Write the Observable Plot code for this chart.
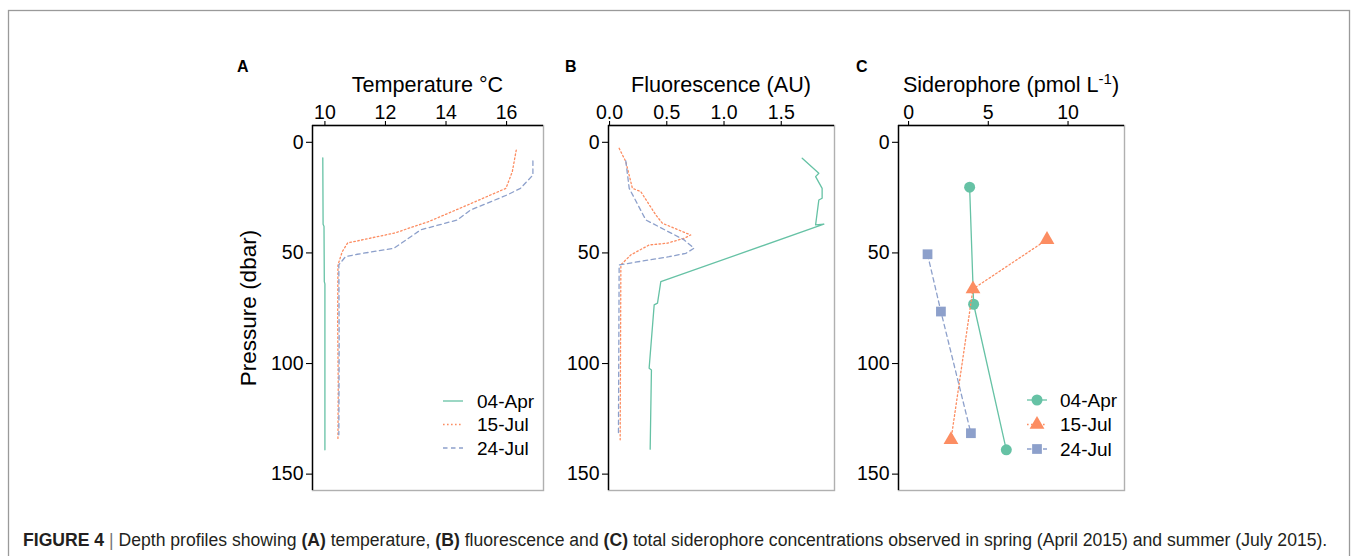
<!DOCTYPE html>
<html>
<head>
<meta charset="utf-8">
<script src="https://cdn.jsdelivr.net/npm/d3@7"></script>
<script src="https://cdn.jsdelivr.net/npm/@observablehq/plot@0.6"></script>
<style>
  html, body { margin: 0; padding: 0; background: #fff; }
  #page { position: relative; width: 1354px; height: 556px; overflow: hidden; background: #fff; font-family: "Liberation Sans", Arial, sans-serif; }
  .panel { position: absolute; top: 55px; }
  #overlay { position: absolute; left: 0; top: 0; pointer-events: none; }
</style>
</head>
<body>
<div id="page"></div>
<script>
// ---------------- data ----------------
const dates = ["04-Apr", "15-Jul", "24-Jul"];
const seriesColors = ["#66c2a5", "#fc8d62", "#8da0cb"];
const seriesDash = ["none", "1.6,2.4", "4.5,3.5"];
const seriesSymbols = ["circle", "triangle", "square"];

const pressureTicks = [0, 50, 100, 150];
const tempTicks = [10, 12, 14, 16];
const fluorTicks = [0, 0.5, 1.0, 1.5];
const sidTicks = [0, 5, 10];

// Temperature (°C) profiles: depth (dbar) and value
const tempAprDepth = [7, 37, 38, 63, 64, 139];
const tempAprValue = [9.93, 9.94, 9.97, 9.98, 10.0, 10.0];
const tempJul15Depth = [3.5, 13.3, 20.8, 29, 36, 41, 45.5, 49.5, 55.5, 80, 110, 134.5];
const tempJul15Value = [16.32, 16.19, 15.98, 14.6, 13.4, 12.3, 10.75, 10.57, 10.43, 10.42, 10.44, 10.43];
const tempJul24Depth = [8.4, 14.8, 20.8, 23.8, 30.6, 35.1, 39.6, 47.9, 50.6, 51.7, 55.4, 90, 132.2];
const tempJul24Value = [16.87, 16.87, 16.46, 16.02, 14.81, 14.37, 13.16, 12.28, 11.07, 10.68, 10.46, 10.47, 10.46];

// Fluorescence (AU) profiles
const fluorAprDepth = [7.2, 14.0, 15.5, 20.8, 25.3, 26.1, 37.3, 37.0, 63.0, 72.7, 73.5, 102.1, 102.9, 138.7];
const fluorAprValue = [1.683, 1.828, 1.80, 1.857, 1.857, 1.828, 1.80, 1.872, 0.448, 0.419, 0.39, 0.346, 0.366, 0.355];
const fluorJul15Depth = [2.7, 8.7, 20.8, 22.3, 32.8, 36.6, 41.9, 43.4, 45.6, 46.4, 50.9, 55.4, 134.5];
const fluorJul15Value = [0.084, 0.142, 0.20, 0.273, 0.404, 0.462, 0.709, 0.651, 0.506, 0.346, 0.186, 0.099, 0.093];
const fluorJul24Depth = [8.4, 20.8, 35.1, 44.1, 47.9, 50.2, 51.7, 55.4, 132.2];
const fluorJul24Value = [0.142, 0.172, 0.317, 0.651, 0.738, 0.666, 0.52, 0.084, 0.078];

// Siderophore (pmol L-1)
const sidAprDepth = [20.3, 73.2, 139.0];
const sidAprValue = [3.83, 4.08, 6.13];
const sidJul15Depth = [44.0, 66.3, 134.5];
const sidJul15Value = [8.68, 4.04, 2.66];
const sidJul24Depth = [50.6, 76.5, 131.5];
const sidJul24Value = [1.19, 2.03, 3.91];

// ---------------- helpers ----------------
function rows(depths, values, date) {
  return depths.map((d, i) => ({depth: d, value: values[i], date}));
}
const yDomain = [-7.6, 157.4];
const FONT = '"Liberation Sans", Arial, Helvetica, sans-serif';
const TICK_FS = 19.5;
const page = document.getElementById("page");

function panel({left, marginLeft, width, xDomain, xTicks, xFormat, data, points}) {
  const marks = [
    Plot.frame({stroke: "#b0b0b0", strokeWidth: 1.4}),
    Plot.ruleX([xDomain[0]], {stroke: "black", strokeWidth: 1.4}),
    Plot.ruleY([yDomain[0]], {stroke: "black", strokeWidth: 1.4}),
    Plot.axisX({anchor: "top", ticks: xTicks, tickFormat: xFormat, tickSize: 5, tickPadding: 2, label: null,
      strokeWidth: 1.1, fontSize: TICK_FS, fontFamily: FONT, fill: "black"}),
    Plot.axisY({anchor: "left", ticks: pressureTicks, tickSize: 6, tickPadding: 3, label: null,
      strokeWidth: 1.1, fontSize: TICK_FS, fontFamily: FONT, fill: "black"})
  ];
  data.forEach((d, i) => {
    marks.push(Plot.line(d, {x: "value", y: "depth", stroke: seriesColors[i], strokeWidth: 1.3,
      strokeDasharray: seriesDash[i] === "none" ? undefined : seriesDash[i]}));
    if (points) {
      marks.push(Plot.dot(d, {x: "value", y: "depth", fill: seriesColors[i], stroke: "none",
        symbol: () => seriesSymbols[i], r: 5.5}));
    }
  });
  const svg = Plot.plot({
    width, height: 440, marginLeft, marginRight: 10, marginTop: 70, marginBottom: 5,
    x: {domain: xDomain},
    y: {domain: yDomain, reverse: true},
    symbol: {type: "identity"},
    style: {fontFamily: FONT, fontSize: TICK_FS + "px", color: "black", background: "transparent", overflow: "visible"},
    marks
  });
  d3.select(svg).selectAll("g[aria-label$='tick label']")
    .attr("font-size", TICK_FS).style("font-size", TICK_FS + "px");
  const wrap = document.createElement("div");
  wrap.className = "panel";
  wrap.style.left = left + "px";
  wrap.appendChild(svg);
  page.appendChild(wrap);
}

panel({
  left: 230, marginLeft: 82, width: 323,
  xDomain: [9.59, 17.22], xTicks: tempTicks, xFormat: d3.format("d"),
  data: [rows(tempAprDepth, tempAprValue, dates[0]), rows(tempJul15Depth, tempJul15Value, dates[1]), rows(tempJul24Depth, tempJul24Value, dates[2])],
  points: false
});
panel({
  left: 540, marginLeft: 68, width: 304,
  xDomain: [-0.009, 1.965], xTicks: fluorTicks, xFormat: d3.format(".1f"),
  data: [rows(fluorAprDepth, fluorAprValue, dates[0]), rows(fluorJul15Depth, fluorJul15Value, dates[1]), rows(fluorJul24Depth, fluorJul24Value, dates[2])],
  points: false
});
panel({
  left: 840, marginLeft: 58, width: 294,
  xDomain: [-0.63, 13.54], xTicks: sidTicks, xFormat: d3.format("d"),
  data: [rows(sidAprDepth, sidAprValue, dates[0]), rows(sidJul15Depth, sidJul15Value, dates[1]), rows(sidJul24Depth, sidJul24Value, dates[2])],
  points: true
});

// ---------------- overlay: frame, titles, legends, caption ----------------
const ov = d3.select(page).append("svg").attr("id", "overlay")
  .attr("width", 1354).attr("height", 556)
  .style("font-family", FONT);

ov.append("rect").attr("x", 8.5).attr("y", 10.5).attr("width", 1341).attr("height", 600)
  .attr("fill", "none").attr("stroke", "#9a9a9a").attr("stroke-width", 1.3);

// panel letters
[["A", 237], ["B", 565], ["C", 856]].forEach(([t, x]) => {
  ov.append("text").attr("x", x).attr("y", 72).attr("font-size", 16).attr("font-weight", "bold").text(t);
});

// axis titles
const TITLE_FS = 21.6;
ov.append("text").attr("x", 427.5).attr("y", 92).attr("text-anchor", "middle").attr("font-size", TITLE_FS).text("Temperature °C");
ov.append("text").attr("x", 721).attr("y", 92).attr("text-anchor", "middle").attr("font-size", TITLE_FS).text("Fluorescence (AU)");
const sid = ov.append("text").attr("x", 1011).attr("y", 92).attr("text-anchor", "middle").attr("font-size", TITLE_FS);
sid.append("tspan").text("Siderophore (pmol L");
sid.append("tspan").attr("font-size", 15).attr("dy", -8).text("-1");
sid.append("tspan").attr("dy", 8).text(")");
ov.append("text").attr("transform", "translate(256,308) rotate(-90)").attr("text-anchor", "middle")
  .attr("font-size", 22.5).text("Pressure (dbar)");

// legend A (lines only)
const LEG_FS = 19;
const legRowsA = [401, 424.5, 448];
dates.forEach((d, i) => {
  ov.append("line").attr("x1", 443).attr("x2", 463).attr("y1", legRowsA[i]).attr("y2", legRowsA[i])
    .attr("stroke", seriesColors[i]).attr("stroke-width", 1.3)
    .attr("stroke-dasharray", seriesDash[i]);
  ov.append("text").attr("x", 477).attr("y", legRowsA[i]).attr("dy", "0.36em").attr("font-size", LEG_FS).text(d);
});
// legend C (lines with symbols)
const legRowsC = [400, 424.5, 449];
dates.forEach((d, i) => {
  ov.append("line").attr("x1", 1027).attr("x2", 1047).attr("y1", legRowsC[i]).attr("y2", legRowsC[i])
    .attr("stroke", seriesColors[i]).attr("stroke-width", 1.3)
    .attr("stroke-dasharray", seriesDash[i]);
  ov.append("path").attr("transform", `translate(1037,${legRowsC[i]})`)
    .attr("d", d3.symbol(seriesSymbols[i] === "circle" ? d3.symbolCircle : seriesSymbols[i] === "triangle" ? d3.symbolTriangle : d3.symbolSquare, Math.PI * 5.5 * 5.5)())
    .attr("fill", seriesColors[i]);
  ov.append("text").attr("x", 1060).attr("y", legRowsC[i]).attr("dy", "0.36em").attr("font-size", LEG_FS).text(d);
});

// caption
const cap = ov.append("text").attr("x", 23).attr("y", 546).attr("font-size", 17.6).attr("fill", "#231f20");
const parts = [
  ["FIGURE 4", true], [" ", false], ["|", "bar"], [" Depth profiles showing ", false], ["(A)", true],
  [" temperature, ", false], ["(B)", true], [" fluorescence and ", false], ["(C)", true],
  [" total siderophore concentrations observed in spring (April 2015) and summer (July 2015).", false]
];
parts.forEach(([t, b]) => {
  const ts = cap.append("tspan").text(t);
  if (b === true) ts.attr("font-weight", "bold");
  if (b === "bar") ts.attr("fill", "#777");
});
</script>
</body>
</html>
